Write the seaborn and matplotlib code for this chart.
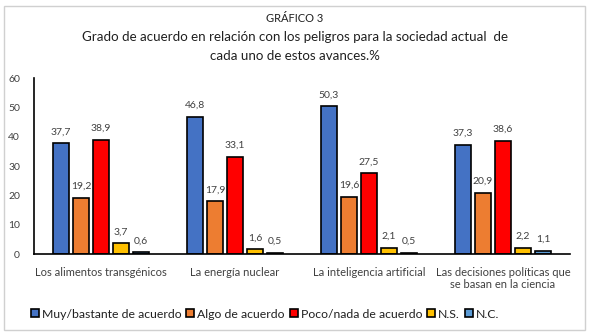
import matplotlib
matplotlib.use("Agg")
import matplotlib.pyplot as plt
import seaborn as sns
import pandas as pd
from matplotlib.patches import Rectangle

categories = ["Los alimentos transgénicos", "La energía nuclear",
              "La inteligencia artificial", "Las decisiones políticas que\nse basan en la ciencia"]
series = ["Muy/bastante de acuerdo", "Algo de acuerdo", "Poco/nada de acuerdo", "N.S.", "N.C."]
muy = [37.7, 46.8, 50.3, 37.3]
algo = [19.2, 17.9, 19.6, 20.9]
poco = [38.9, 33.1, 27.5, 38.6]
ns = [3.7, 1.6, 2.1, 2.2]
nc = [0.6, 0.5, 0.5, 1.1]
colors = ["#4472C4", "#ED7D31", "#FF0000", "#FFC000", "#5B9BD5"]

rows = []
for s, vals in zip(series, [muy, algo, poco, ns, nc]):
    for c, v in zip(categories, vals):
        rows.append({"cat": c, "serie": s, "val": v})
df = pd.DataFrame(rows)

sns.set_theme(style="white")
plt.rcParams["font.family"] = ["Lato", "DejaVu Sans"]

fig = plt.figure(figsize=(5.89, 3.36), dpi=100)
fig.patches.append(Rectangle((4/589, 6/336), 581/589, 324/336, transform=fig.transFigure,
                             fill=False, edgecolor="#d0d0d0", linewidth=1))
ax = fig.add_axes([34/589, (336-254)/336, (570-34)/589, (254-78)/336])
sns.barplot(data=df, x="cat", y="val", hue="serie", palette=colors, ax=ax, saturation=1,
            width=0.75, gap=0.2, edgecolor="black", linewidth=1.2, legend=True)

for cont in ax.containers:
    labels = [f"{v:.1f}".replace(".", ",") for v in cont.datavalues]
    ax.bar_label(cont, labels=labels, padding=5, fontsize=7.5, color="#404040")

ax.set_ylim(0, 60)
ax.set_yticks(range(0, 61, 10))
ax.set_xlabel("")
ax.set_ylabel("")
ax.tick_params(axis="x", labelsize=8, colors="#404040", length=0, pad=9)
ax.tick_params(axis="y", labelsize=7.5, colors="#404040", length=0, pad=10)
for sp in ["top", "right"]:
    ax.spines[sp].set_visible(False)
for sp in ["left", "bottom"]:
    ax.spines[sp].set_color("black")
    ax.spines[sp].set_linewidth(1.2)

h, l = ax.get_legend_handles_labels()
ax.legend_.remove()
fig.legend(h, l, loc="center", bbox_to_anchor=(265/589, 1 - 314/336), ncol=5, frameon=False,
           fontsize=8.8, handlelength=0.65, handleheight=0.65, handletextpad=0.25,
           columnspacing=0.4, labelcolor="#202020")

fig.text(0.5, 1 - 18/336, "GRÁFICO 3", ha="center", va="center", fontsize=8, color="#202020")
fig.text(0.5, 1 - 37/336, "Grado de acuerdo en relación con los peligros para la sociedad actual  de",
         ha="center", va="center", fontsize=9.6, color="#202020")
fig.text(0.5, 1 - 56/336, "cada uno de estos avances.%", ha="center", va="center",
         fontsize=9.6, color="#202020")

fig.savefig("out.png", dpi=100)
